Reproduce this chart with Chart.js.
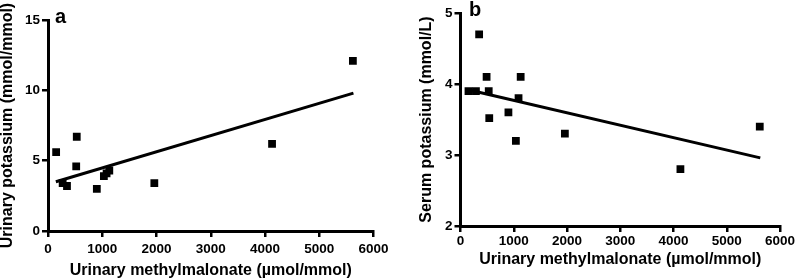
<!DOCTYPE html>
<html>
<head>
<meta charset="utf-8">
<script src="https://cdn.jsdelivr.net/npm/chart.js@4/dist/chart.umd.min.js"></script>
<style>
html,body{margin:0;padding:0;background:#fff;}
body{width:797px;height:279px;position:relative;overflow:hidden;}
.panel{position:absolute;top:0;height:279px;}
.tag{position:absolute;font:bold 20px 'Liberation Sans',Arial,sans-serif;color:#000;line-height:1;}
</style>
</head>
<body>
<div class="panel" style="left:0;width:400px"><canvas id="chartA" width="400" height="279"></canvas></div>
<div class="panel" style="left:400px;width:397px"><canvas id="chartB" width="397" height="279"></canvas></div>
<span class="tag" style="left:55px;top:6px">a</span>
<span class="tag" style="left:469px;top:-1px">b</span>
<script>
// values

const xTitle = "Urinary methylmalonate (µmol/mmol)";
const xTicks = [0,1000,2000,3000,4000,5000,6000];

// panel a
const aX = [150,270,350,520,530,900,1030,1080,1130,1960,4130,5620];
const aY = [5.6,3.4,3.2,4.6,6.7,3.0,3.9,4.1,4.3,3.4,6.2,12.1];
const aFitX = [145,5630];
const aFitY = [3.5,9.8];
const aTicks = [0,5,10,15];
const aTitle = "Urinary potassium (mmol/mmol)";

// panel b
const bX = [150,290,350,490,530,540,900,1040,1090,1130,1960,4130,5620];
const bY = [3.9,3.9,4.7,4.1,3.9,3.52,3.6,3.2,3.8,4.1,3.3,2.8,3.4];
const bFitX = [145,5630];
const bFitY = [3.92,2.96];
const bTicks = [2,3,4,5];
const bTitle = "Serum potassium (mmol/L)";

Chart.defaults.font.family = "'Liberation Sans', Arial, sans-serif";
Chart.defaults.font.weight = "bold";
Chart.defaults.color = "#000";

function pts(xs, ys){
    return xs.map((x,i)=>({x:x, y:ys[i]}));
}

function makeChart(id, o){
    new Chart(document.getElementById(id), {
        type: "scatter",
        data: {
            datasets: [
                {
                    data: pts(o.x, o.y),
                    pointStyle: "rect",
                    pointRadius: 5.5,
                    backgroundColor: "#000",
                    borderWidth: 0
                },
                {
                    data: pts(o.fitX, o.fitY),
                    showLine: true,
                    pointRadius: 0,
                    borderColor: "#000",
                    borderWidth: 3
                }
            ]
        },
        options: {
            responsive: false,
            animation: false,
            layout: {padding: o.pad},
            plugins: {legend: {display: false}, tooltip: {enabled: false}},
            scales: {
                x: {
                    type: "linear",
                    min: 0, max: 6000,
                    afterBuildTicks: s => { s.ticks = xTicks.map(v => ({value: v})); },
                    afterFit: s => { s.height = o.xh; },
                    ticks: {font: {size: 13.5, weight: "bold"}, padding: o.xpad, maxRotation: 0, callback: v => String(v)},
                    grid: {drawOnChartArea: false, drawTicks: true, tickLength: 6, color: "#000", lineWidth: 2.5},
                    border: {color: "#000", width: 3},
                    title: {display: true, text: xTitle, font: {size: 16, weight: "bold", lineHeight: 1.1}, padding: {top: 0, bottom: o.xtb}}
                },
                y: {
                    type: "linear",
                    min: o.ticks[0], max: o.ticks[o.ticks.length-1],
                    afterBuildTicks: s => { s.ticks = o.ticks.map(v => ({value: v})); },
                    afterFit: s => { s.width = o.yw; },
                    ticks: {font: {size: 13.5, weight: "bold"}, padding: 2, callback: v => String(v)},
                    grid: {drawOnChartArea: false, drawTicks: true, tickLength: 6, color: "#000", lineWidth: 2.5},
                    border: {color: "#000", width: 3},
                    title: {display: true, text: o.title, font: {size: 16, weight: "bold", lineHeight: 1.1}, padding: {top: o.ytp, bottom: 0}}
                }
            }
        }
    });
}

makeChart("chartA", {
    x: aX, y: aY, fitX: aFitX, fitY: aFitY, ticks: aTicks, title: aTitle,
    pad: {left: 0, top: 20, right: 26.5, bottom: 0},
    xh: 48, yw: 48, xpad: 4, xtb: 0, ytp: -1
});

makeChart("chartB", {
    x: bX, y: bY, fitX: bFitX, fitY: bFitY, ticks: bTicks, title: bTitle,
    pad: {left: 0, top: 13, right: 17, bottom: 0},
    xh: 53, yw: 60.5, xpad: 1, xtb: 11, ytp: 17.5
});
</script>
</body>
</html>
